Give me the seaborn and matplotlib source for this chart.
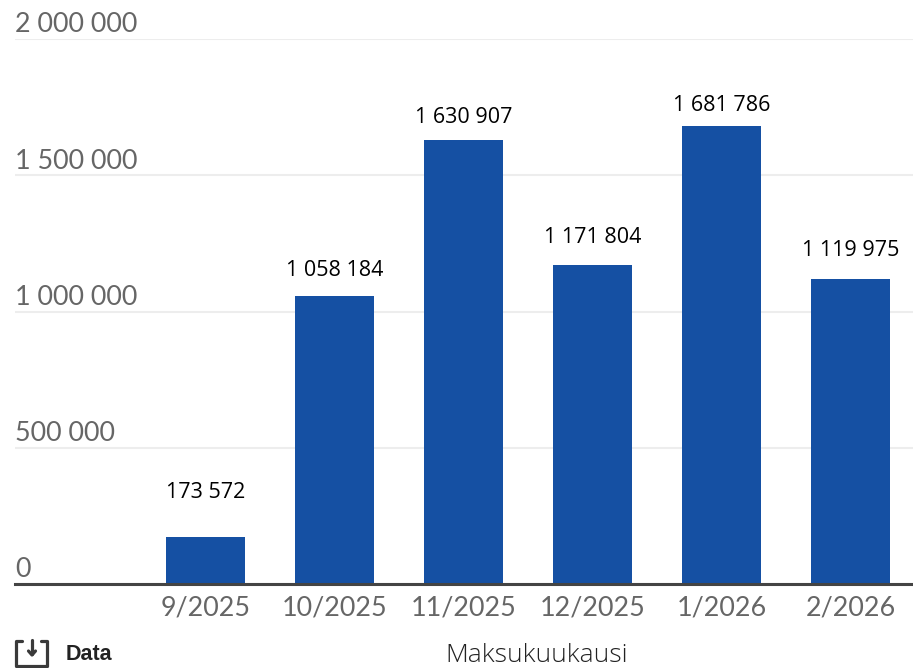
import matplotlib
matplotlib.use("Agg")
import matplotlib.pyplot as plt
from matplotlib.lines import Line2D
from matplotlib.transforms import blended_transform_factory
import pandas as pd
import seaborn as sns

months = ["9/2025", "10/2025", "11/2025", "12/2025", "1/2026", "2/2026"]
values = [173572, 1058184, 1630907, 1171804, 1681786, 1119975]
value_labels = ["173 572", "1 058 184", "1 630 907", "1 171 804", "1 681 786", "1 119 975"]
label_gaps_px = [44, 25, 22, 27, 20, 28]
y_ticks = [0, 500000, 1000000, 1500000, 2000000]
y_tick_labels = ["0", "500 000", "1 000 000", "1 500 000", "2 000 000"]

W, H = 913, 668
PT = 0.72
sns.set_theme(style="white")
fig = plt.figure(figsize=(W / 100, H / 100), dpi=100, facecolor="white")
ax = fig.add_axes([15 / W, 1 - 584 / H, (W - 15) / W, (584 - 39) / H])

df = pd.DataFrame({"month": months, "value": values})
sns.barplot(data=df, x="month", y="value", color="#1550A3", saturation=1, width=0.612,
            linewidth=0, ax=ax, zorder=3)

ax.set_xlim(-1.477, 5.484)
ax.set_ylim(0, 2000000)
ax.set_xlabel("")
ax.set_ylabel("")
ax.set_yticks(y_ticks)
ax.set_yticklabels([])
ax.tick_params(axis="y", length=0)
ax.tick_params(axis="x", length=0, pad=8.6, labelsize=19.4, labelcolor="#666666")
for lab in ax.get_xticklabels():
    lab.set_family("Lato")

ax.grid(axis="y", color="#EDEDED", linewidth=1.5, zorder=0)
ax.grid(axis="x", visible=False)
for side in ("top", "left", "right"):
    ax.spines[side].set_visible(False)
ax.spines["bottom"].set_color("#444444")
ax.spines["bottom"].set_linewidth(2.2)
ax.spines["bottom"].set_zorder(5)

trans = blended_transform_factory(ax.transAxes, ax.transData)
for t, lab in zip(y_ticks, y_tick_labels):
    ax.annotate(lab, xy=(0, t), xycoords=trans, xytext=(0, 1.2), textcoords="offset points",
                ha="left", va="bottom", fontsize=19.4, color="#666666", family="Lato")

for i, (v, lab, gap) in enumerate(zip(values, value_labels, label_gaps_px)):
    ax.annotate(lab, xy=(i, v), xytext=(0, gap * PT), textcoords="offset points", ha="center", va="center",
                fontsize=15.5, color="black", family="Open Sans")

fig.text(537 / W, 1 - 655 / H, "Maksukuukausi", ha="center", va="center", fontsize=19, color="#222222",
         family="Open Sans", fontweight="light")
fig.text(66 / W, 1 - 654 / H, "Data", ha="left", va="center", fontsize=15.5, fontweight="bold",
         color="#222222", family="Liberation Sans")

# download icon
def px_line(xs, ys, lw=2.3):
    fig.add_artist(Line2D([x / W for x in xs], [1 - y / H for y in ys], transform=fig.transFigure,
                          color="#3A3A3A", linewidth=lw, solid_capstyle="round", solid_joinstyle="round"))
px_line([22, 16, 16, 47, 47, 41], [641, 641, 666, 666, 641, 641])
px_line([32, 32], [640, 654])
px_line([28.5, 32, 35.5], [651, 655, 651])

fig.savefig("out.png", dpi=100)
